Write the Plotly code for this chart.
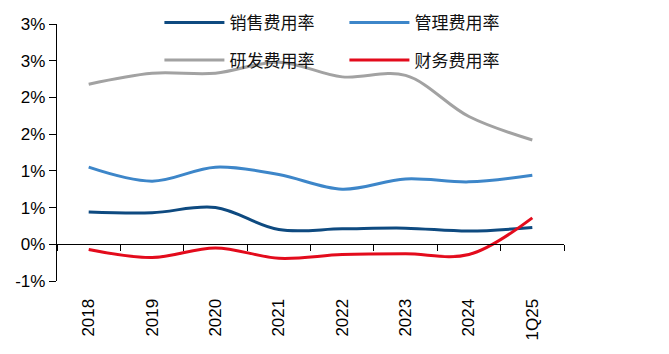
import plotly.graph_objects as go

years = ["2018", "2019", "2020", "2021", "2022", "2023", "2024", "1Q25"]
sales = [0.44, 0.43, 0.50, 0.20, 0.21, 0.22, 0.18, 0.23]
mgmt = [1.05, 0.86, 1.05, 0.95, 0.75, 0.89, 0.85, 0.94]
rnd = [2.18, 2.33, 2.33, 2.48, 2.28, 2.30, 1.74, 1.42]
fin = [-0.07, -0.18, -0.05, -0.19, -0.14, -0.13, -0.14, 0.36]

ytickvals = [-0.5, 0, 0.5, 1.0, 1.5, 2.0, 2.5, 3.0]
yticktext = ["-1%", "0%", "1%", "1%", "2%", "2%", "3%", "3%"]

names = ["销售费用率", "管理费用率", "研发费用率", "财务费用率"]
colors = ["#0E4A80", "#3D86C9", "#A2A2A2", "#E30B1C"]
series = [sales, mgmt, rnd, fin]
legends = ["legend", "legend", "legend2", "legend2"]

ymin, ymax = -0.5, 3.0

fig = go.Figure()
for name, col, vals, lg in zip(names, colors, series, legends):
    fig.add_trace(go.Scatter(
        x=years, y=vals, name=name, mode="lines",
        line=dict(color=col, width=3, shape="spline", smoothing=1),
        legend=lg, xaxis="x", yaxis="y",
    ))

# dummy trace to carry bottom category labels
fig.add_trace(go.Scatter(x=years, y=[None] * len(years), xaxis="x2", yaxis="y",
                         showlegend=False, hoverinfo="skip", mode="lines"))

zero_pos = (0 - ymin) / (ymax - ymin)

legend_common = dict(
    orientation="h", bgcolor="rgba(0,0,0,0)", borderwidth=0,
    font=dict(family="Noto Sans CJK SC", size=17, color="#111"),
    itemwidth=60, entrywidth=110, xanchor="left", yanchor="middle",
)

fig.update_layout(
    width=669, height=354,
    margin=dict(l=57, r=105, t=24, b=73, autoexpand=False),
    paper_bgcolor="white", plot_bgcolor="white",
    showlegend=True,
    legend=dict(x=0.202, y=1.004, **legend_common),
    legend2=dict(x=0.202, y=0.858, **legend_common),
    xaxis=dict(
        type="category", range=[-0.5, 7.5], anchor="free", position=zero_pos,
        showline=True, linecolor="black", linewidth=1.3,
        ticks="outside", tickson="boundaries", ticklen=6, tickwidth=1.3, tickcolor="black",
        showticklabels=False, showgrid=False, zeroline=False,
    ),
    xaxis2=dict(
        type="category", range=[-0.5, 7.5], anchor="y", overlaying="x", side="bottom",
        showline=False, showgrid=False, zeroline=False,
        ticks="outside", ticklen=10, tickcolor="rgba(0,0,0,0)",
        tickangle=-90, tickfont=dict(family="Liberation Sans", size=17, color="black"),
    ),
    yaxis=dict(
        range=[ymin, ymax], tickvals=ytickvals, ticktext=yticktext,
        showline=True, linecolor="black", linewidth=1.3,
        ticks="outside", ticklen=7, tickwidth=1.3, tickcolor="black",
        tickfont=dict(family="Liberation Sans", size=17, color="black"),
        showgrid=False, zeroline=False,
    ),
)

fig.write_html("out.html")
